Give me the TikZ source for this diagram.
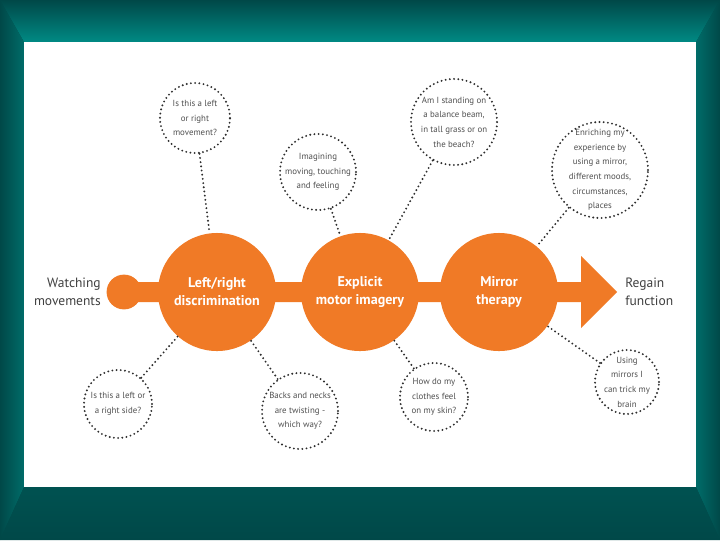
\documentclass[tikz,border=0pt]{standalone}
\usepackage{fontspec}
\setmainfont{PT Sans}
\usetikzlibrary{positioning, calc}
\definecolor{frameDark}{RGB}{0,72,72}
\definecolor{frameLight}{RGB}{0,138,132}
\definecolor{stageOrange}{RGB}{240,122,38}
\definecolor{bubbleText}{RGB}{80,80,80}
\definecolor{dotGrey}{RGB}{45,45,45}

\begin{document}
\begin{tikzpicture}[x=0.025cm, y=-0.025cm,
  stage/.style={circle, fill=stageOrange, minimum size=2.95cm, inner sep=0pt,
    align=center, text=white, font=\fontsize{10}{12.8}\selectfont\bfseries},
  bubble/.style={circle, draw=dotGrey, line width=1.5pt,
    dash pattern=on 0pt off 3pt, line cap=round, inner sep=0pt},
  bubtext/.style={align=center, text=bubbleText, inner sep=0pt,
    font=\fontsize{6.3}{10.4}\selectfont},
  link/.style={draw=dotGrey, line width=1.5pt, dash pattern=on 0pt off 3pt, line cap=round},
  endlabel/.style={text=black!75, inner sep=0pt, font=\fontsize{9.6}{12.8}\selectfont}]

%------------------------------------------------
% cornice e pannello bianco
%------------------------------------------------
\fill[frameDark] (0,0) rectangle (720,540);
\shade[top color=frameDark, bottom color=frameLight] (0,0) -- (720,0) -- (696,42) -- (24,42) -- cycle;
\shade[left color=frameDark, right color=frameLight!55!frameDark] (0,0) -- (24,42) -- (24,487) -- (0,540) -- cycle;
\shade[right color=frameDark, left color=frameLight!55!frameDark] (720,0) -- (696,42) -- (696,487) -- (720,540) -- cycle;
\shade[top color=frameDark!85!frameLight, bottom color=frameDark] (0,540) -- (24,487) -- (696,487) -- (720,540) -- cycle;
\fill[white] (24,42) rectangle (696,487);

%------------------------------------------------
% barra arancione con freccia
%------------------------------------------------
\coordinate (tip) at (617,292);
\fill[stageOrange] (124,282) -- (581,282) -- (581,256) -- (tip) -- (581,328) -- (581,302) -- (124,302) -- cycle;
\node[circle, fill=stageOrange, minimum size=0.87cm, inner sep=0pt] (start) at (124,292) {};

% le tre fasi
\node[stage] (lr)  at (217,292) {Left/right\\discrimination};
\node[stage] (emi) at (360,292) {Explicit\\motor imagery};
\node[stage] (mt)  at (499,292) {Mirror\\therapy};

% etichette agli estremi
\node[endlabel, anchor=east, align=right] (watch) at (101,292) {Watching\\movements};
\node[endlabel, anchor=west, align=left] (regain) at (625,292) {Regain\\function};

%------------------------------------------------
% domande tratteggiate
%------------------------------------------------
\node[bubble, minimum size=1.75cm, label={[bubtext]center:{Is this a left\\or right\\movement?}}] (bubA) at (195,118) {};
\node[bubble, minimum size=1.9cm, label={[bubtext]center:{Imagining\\moving, touching\\and feeling}}] (bubB) at (318,172) {};
\node[bubble, minimum size=2.15cm, label={[bubtext]center:{Am I standing on\\a balance beam,\\in tall grass or on\\the beach?}}] (bubC) at (454,122) {};
\node[bubble, minimum size=2.4cm, label={[bubtext]center:{Enriching my\\experience by\\using a mirror,\\different moods,\\circumstances,\\places}}] (bubD) at (600,170) {};
\node[bubble, minimum size=1.7cm, label={[bubtext]center:{Is this a left or\\a right side?}}] (bubE) at (118,404) {};
\node[bubble, minimum size=1.9cm, label={[bubtext]center:{Backs and necks\\are twisting -\\which way?}}] (bubF) at (300,411) {};
\node[bubble, minimum size=1.7cm, label={[bubtext]center:{How do my\\clothes feel\\on my skin?}}] (bubG) at (434,397) {};
\node[bubble, minimum size=1.6cm, label={[bubtext]center:{Using\\mirrors I\\can trick my\\brain}}] (bubH) at (627,382) {};

% collegamenti
\draw[link] (bubA) -- (lr);
\draw[link] (bubE) -- (lr);
\draw[link] (bubF) -- (lr);
\draw[link] (bubB) -- (emi);
\draw[link] (bubC) -- (emi);
\draw[link] (bubG) -- (emi);
\draw[link] (bubD) -- (mt);
\draw[link] (bubH) -- (mt);
\end{tikzpicture}
\end{document}
